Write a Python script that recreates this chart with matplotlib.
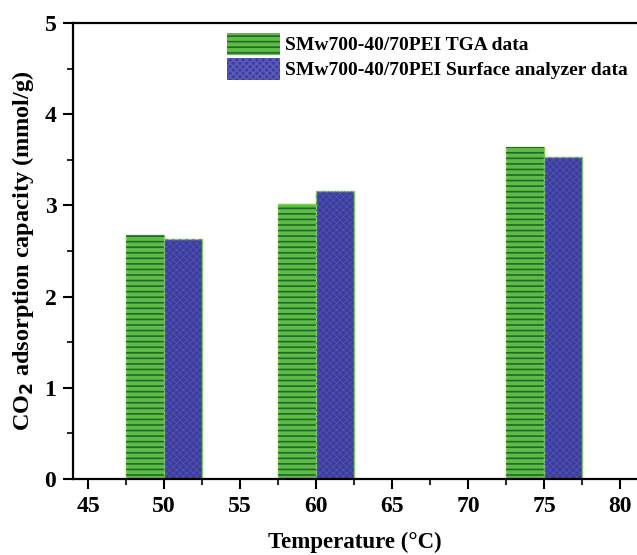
import matplotlib.pyplot as plt
from matplotlib.ticker import MultipleLocator
from matplotlib.patches import Patch

temps = [50, 60, 75]
tga = [2.68, 3.01, 3.64]
surface = [2.63, 3.16, 3.53]
xticks = [45, 50, 55, 60, 65, 70, 75, 80]
yticks = [0, 1, 2, 3, 4, 5]
labels = ['SMw700-40/70PEI TGA data', 'SMw700-40/70PEI Surface analyzer data']

plt.rcParams['font.family'] = 'Liberation Serif'
plt.rcParams['font.weight'] = 'bold'
plt.rcParams['hatch.linewidth'] = 1.2

fig = plt.figure(figsize=(6.37, 5.55), dpi=100)
ax = fig.add_axes([0.1146, 0.137, 0.8854, 0.8216])

w = 2.5
green, dgreen = '#5fbb47', '#1f6a26'
blue, lblue = '#3d3d9e', '#5a5ab8'

ax.bar([t - w / 2 for t in temps], tga, width=w, color=green,
       edgecolor='#7ccc55', linewidth=1.0)
ax.bar([t - w / 2 for t in temps], tga, width=w, facecolor='none',
       edgecolor=dgreen, hatch='---', linewidth=0)
ax.bar([t + w / 2 for t in temps], surface, width=w, color=blue,
       edgecolor='#7ccc55', linewidth=1.0)
with plt.rc_context({'hatch.linewidth': 0.4}):
    ax.bar([t + w / 2 for t in temps], surface, width=w, facecolor='none',
           edgecolor=lblue, hatch='xxxxx', linewidth=0)

ax.set_xlim(44, 81.1)
ax.set_ylim(0, 5)
ax.set_xticks(xticks)
ax.set_yticks(yticks)
ax.xaxis.set_minor_locator(MultipleLocator(2.5))
ax.yaxis.set_minor_locator(MultipleLocator(0.5))
ax.tick_params(which='major', length=7, width=1.5, labelsize=17, pad=5)
ax.tick_params(which='minor', length=4, width=1.2)
for s in ['left', 'top', 'bottom']:
    ax.spines[s].set_linewidth(1.6)
ax.spines['right'].set_visible(False)

ax.set_xlabel('Temperature (°C)', fontsize=16.5, fontweight='bold', labelpad=11)
ax.set_ylabel('CO$_\\mathbf{2}$ adsorption capacity (mmol/g)', fontsize=17.5,
              fontweight='bold', labelpad=6)

h1 = Patch(facecolor=green, edgecolor=dgreen, hatch='---', linewidth=0)
h2 = Patch(facecolor=blue, edgecolor=lblue, hatch='xxxxx', linewidth=0)
ax.legend([h1, h2], labels, loc='upper left',
          bbox_to_anchor=(227 / 637, 1 - 33 / 555), bbox_transform=fig.transFigure,
          frameon=False, prop={'size': 14, 'weight': 'bold'},
          borderpad=0, borderaxespad=0,
          handlelength=2.7, handleheight=1.35, handletextpad=0.3,
          labelspacing=0.15)

fig.savefig('out.png', dpi=100)
